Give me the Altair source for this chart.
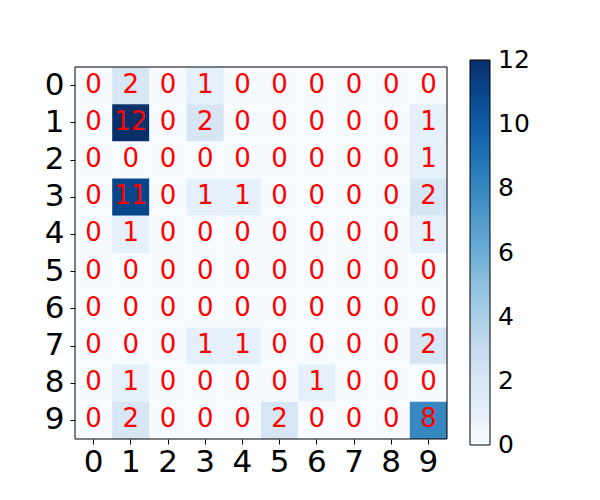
import altair as alt
import pandas as pd

labels = list(range(10))
matrix = [
    [0, 2, 0, 1, 0, 0, 0, 0, 0, 0],
    [0, 12, 0, 2, 0, 0, 0, 0, 0, 1],
    [0, 0, 0, 0, 0, 0, 0, 0, 0, 1],
    [0, 11, 0, 1, 1, 0, 0, 0, 0, 2],
    [0, 1, 0, 0, 0, 0, 0, 0, 0, 1],
    [0, 0, 0, 0, 0, 0, 0, 0, 0, 0],
    [0, 0, 0, 0, 0, 0, 0, 0, 0, 0],
    [0, 0, 0, 1, 1, 0, 0, 0, 0, 2],
    [0, 1, 0, 0, 0, 0, 1, 0, 0, 0],
    [0, 2, 0, 0, 0, 2, 0, 0, 0, 8],
]
colorbar_ticks = [0, 2, 4, 6, 8, 10, 12]

rows = []
for i, r in enumerate(labels):
    for j, c in enumerate(labels):
        rows.append({"row": r, "col": c, "value": matrix[i][j]})
df = pd.DataFrame(rows)

blues = ["#f7fbff", "#deebf7", "#c6dbef", "#9ecae1", "#6baed6",
         "#4292c6", "#2171b5", "#08519c", "#08306b"]
vmax = 12
stops = [vmax * k / 8 for k in range(9)]
# tiny widening so that the end labels of the colorbar are centred on their values
stops[0] = -0.01
stops[-1] = vmax + 0.01

W = 372
H = 372
font = "DejaVu Sans"
axis_common = dict(title=None, labelFontSize=31, labelFont=font, labelColor="black",
                   tickSize=5, tickColor="black", tickWidth=1, labelAngle=0,
                   domain=False, grid=False)

base = alt.Chart(df)

heat = base.mark_rect().encode(
    x=alt.X("col:O", scale=alt.Scale(paddingInner=0, paddingOuter=0),
            axis=alt.Axis(labelPadding=3, **axis_common)),
    y=alt.Y("row:O", scale=alt.Scale(paddingInner=0, paddingOuter=0),
            axis=alt.Axis(labelPadding=6, **axis_common)),
    color=alt.Color("value:Q", title=None,
                    scale=alt.Scale(domain=stops, range=blues, type="linear",
                                    interpolate="rgb"),
                    legend=alt.Legend(orient="none", legendX=395, legendY=-7,
                                      direction="vertical",
                                      gradientLength=385, gradientThickness=20,
                                      gradientStrokeColor="black", gradientStrokeWidth=1,
                                      values=colorbar_ticks, labelFontSize=25,
                                      labelFont=font, labelColor="black",
                                      labelOffset=8, labelBaseline="middle",
                                      labelOverlap=False, padding=0)),
)

text = base.mark_text(color="red", fontSize=26, font=font, baseline="middle",
                      align="center", dy=-1).encode(
    x="col:O", y="row:O", text="value:Q")

frame = alt.Chart(pd.DataFrame({"k": [0]})).mark_rect(
    fill=None, stroke="black", strokeWidth=1).encode(
    x=alt.value(0), x2=alt.value(W), y=alt.value(0), y2=alt.value(H))

chart = (heat + text + frame).properties(
    width=W, height=H,
    autosize=alt.AutoSizeParams(type="none"),
    padding={"left": 75, "top": 67, "right": 153, "bottom": 61},
    background="white",
).configure_view(stroke=None)

chart.save("out.html", embed_options={"renderer": "svg", "actions": False})
